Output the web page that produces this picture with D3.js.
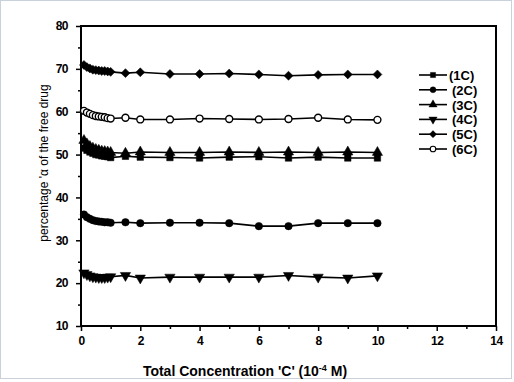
<!DOCTYPE html>
<html>
<head>
<meta charset="utf-8">
<script src="https://cdn.jsdelivr.net/npm/d3@7"></script>
<style>
  body { margin: 0; background: #fff; }
  svg text { fill: #000; }
</style>
</head>
<body>
<div id="chart"></div>
<script>
// x values (10^-4 M)
const concX = [0.1, 0.2, 0.3, 0.4, 0.5, 0.6, 0.7, 0.8, 0.9, 1.0, 1.5, 2, 3, 4, 5, 6, 7, 8, 9, 10];

const s1C = [51.5, 51.0, 50.6, 50.3, 50.0, 49.9, 49.7, 49.6, 49.5, 49.3, 49.6, 49.4, 49.3, 49.2, 49.4, 49.5, 49.2, 49.4, 49.2, 49.2];
const s2C = [36.0, 35.4, 35.0, 34.7, 34.5, 34.4, 34.3, 34.2, 34.2, 34.1, 34.2, 34.0, 34.1, 34.1, 34.0, 33.3, 33.3, 34.0, 34.0, 34.0];
const s3C = [53.3, 52.5, 51.9, 51.5, 51.2, 51.0, 50.8, 50.7, 50.6, 50.5, 50.3, 50.6, 50.5, 50.5, 50.6, 50.5, 50.6, 50.5, 50.6, 50.5];
const s4C = [22.4, 22.0, 21.7, 21.5, 21.4, 21.3, 21.3, 21.3, 21.4, 21.5, 21.8, 21.2, 21.4, 21.4, 21.4, 21.4, 21.8, 21.4, 21.2, 21.7];
const s5C = [70.9, 70.4, 70.1, 69.8, 69.7, 69.6, 69.5, 69.5, 69.4, 69.3, 69.0, 69.2, 68.8, 68.8, 68.9, 68.7, 68.4, 68.6, 68.7, 68.7];
const s6C = [60.2, 59.8, 59.5, 59.2, 59.0, 58.9, 58.8, 58.7, 58.5, 58.4, 58.6, 58.2, 58.2, 58.4, 58.3, 58.2, 58.3, 58.6, 58.2, 58.1];

const seriesNames = ["(1C)", "(2C)", "(3C)", "(4C)", "(5C)", "(6C)"];
const seriesVals = [s1C, s2C, s3C, s4C, s5C, s6C];
const xTicks = [0, 2, 4, 6, 8, 10, 12, 14];
const yTicks = [10, 20, 30, 40, 50, 60, 70, 80];

const W = 514, H = 382;
const padL = 81, padR = 496, padT = 26, padB = 326;

const svg = d3.select("#chart").append("svg")
  .attr("width", W).attr("height", H);

svg.append("rect")
  .attr("x", 0.5).attr("y", 0.5)
  .attr("width", W - 3).attr("height", H - 4)
  .attr("fill", "#fff")
  .attr("stroke", "#c9d1da");

const x = d3.scaleLinear().domain([0, 14]).range([padL, padR]);
const y = d3.scaleLinear().domain([10, 80]).range([padB, padT]);

const tickFont = "bold 12px 'Liberation Sans Narrow', 'Arial Narrow', 'Liberation Sans', Arial, sans-serif";

// frame
svg.append("rect")
  .attr("x", padL).attr("y", padT)
  .attr("width", padR - padL).attr("height", padB - padT)
  .attr("fill", "none").attr("stroke", "#000").attr("stroke-width", 2);

// x axis
const gx = svg.append("g").attr("transform", "translate(0," + padB + ")");
gx.call(d3.axisBottom(x).tickValues(xTicks).tickSize(5).tickPadding(5).tickFormat(d3.format("d")));
gx.append("g").call(d3.axisBottom(x).tickValues(d3.range(1, 14, 2)).tickSize(3).tickFormat(""));
gx.selectAll(".domain").remove();
gx.selectAll("line").attr("stroke", "#000").attr("stroke-width", 1.5);
gx.selectAll("text").style("font", tickFont).attr("fill", "#000").style("letter-spacing", "-0.5px");

// y axis
const gy = svg.append("g").attr("transform", "translate(" + padL + ",0)");
gy.call(d3.axisLeft(y).tickValues(yTicks).tickSize(5).tickPadding(8).tickFormat(d3.format("d")));
gy.append("g").call(d3.axisLeft(y).tickValues(d3.range(15, 80, 10)).tickSize(3).tickFormat(""));
gy.selectAll(".domain").remove();
gy.selectAll("line").attr("stroke", "#000").attr("stroke-width", 1.5);
gy.selectAll("text").style("font", tickFont).attr("fill", "#000").style("letter-spacing", "-0.5px");

// markers
const sym = [
  d3.symbol().type(d3.symbolSquare).size(42),
  d3.symbol().type(d3.symbolCircle).size(44),
  d3.symbol().type(d3.symbolTriangle).size(46),
  d3.symbol().type(d3.symbolTriangle).size(46),
  d3.symbol().type(d3.symbolSquare).size(40),
  d3.symbol().type(d3.symbolCircle).size(38)
];
const rot = [0, 0, 0, 180, 45, 0];
const filled = [true, true, true, true, true, false];

const line = d3.line().x(d => x(d[0])).y(d => y(d[1]));

seriesVals.forEach((vals, i) => {
  const pts = concX.map((c, j) => [c, vals[j]]);
  svg.append("path").datum(pts)
    .attr("d", line)
    .attr("fill", "none").attr("stroke", "#000").attr("stroke-width", 1.6);
  svg.append("g").selectAll("path").data(pts).enter().append("path")
    .attr("d", sym[i])
    .attr("transform", d => "translate(" + x(d[0]) + "," + y(d[1]) + ") rotate(" + rot[i] + ")")
    .attr("fill", filled[i] ? "#000" : "#fff")
    .attr("stroke", "#000").attr("stroke-width", filled[i] ? 0.5 : 1.4);
});

// legend
const lg = svg.append("g");
seriesNames.forEach((name, i) => {
  const ly = 75 + i * 14.8;
  lg.append("line").attr("x1", 419).attr("x2", 447).attr("y1", ly).attr("y2", ly)
    .attr("stroke", "#000").attr("stroke-width", 1.6);
  lg.append("path").attr("d", sym[i])
    .attr("transform", "translate(433," + ly + ") rotate(" + rot[i] + ") scale(0.8)")
    .attr("fill", filled[i] ? "#000" : "#fff")
    .attr("stroke", "#000").attr("stroke-width", filled[i] ? 0.5 : 1.4);
  lg.append("text").attr("x", i === 0 ? 449 : 452).attr("y", ly + 5)
    .style("font", "bold 13px 'Liberation Sans', Arial, sans-serif")
    .text(name);
});

// axis titles
const xt = svg.append("text").attr("x", 245).attr("y", 376)
  .attr("text-anchor", "middle")
  .style("font", "bold 14px 'Liberation Sans', Arial, sans-serif");
xt.append("tspan").text("Total Concentration  'C' (10");
xt.append("tspan").attr("dy", -5).style("font-size", "9px").text("-4");
xt.append("tspan").attr("dy", 5).text(" M)");

svg.append("text")
  .attr("transform", "translate(48,163) rotate(-90)")
  .attr("text-anchor", "middle")
  .style("font", "12px 'Liberation Sans', Arial, sans-serif")
  .text("percentage  'α of the free drug");
</script>
</body>
</html>
